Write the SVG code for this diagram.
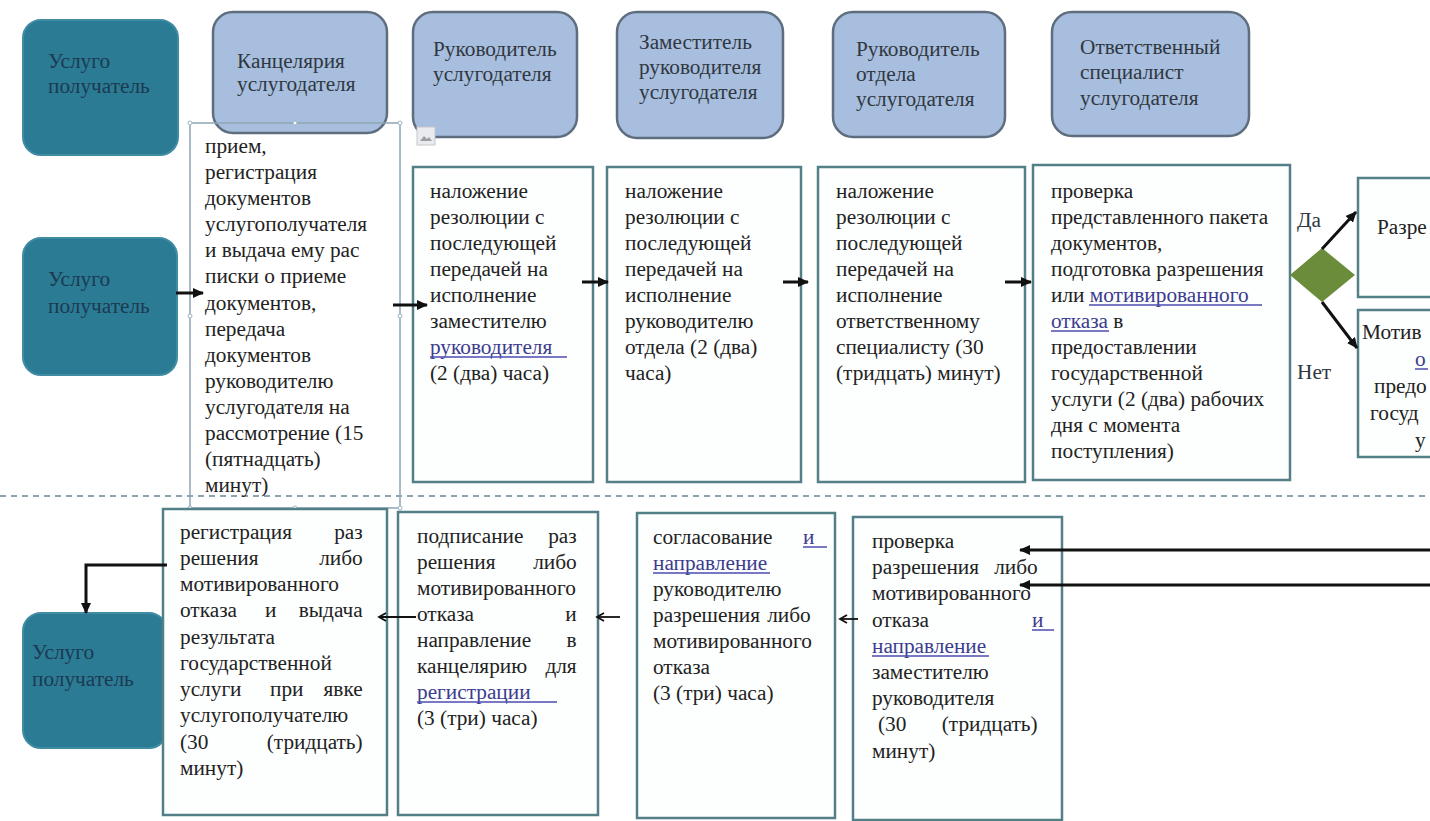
<svg xmlns="http://www.w3.org/2000/svg" width="1430" height="821" viewBox="0 0 1430 821">
<style>
.bg{fill:#ffffff}
.hdr{fill:#a7bede;stroke:#5e6e7e;stroke-width:2.5}
.cli{fill:#2b7b94;stroke:#3f8ca3;stroke-width:2}
.task{fill:#fdfefe;stroke:#537f86;stroke-width:2.5}
.sel{fill:none;stroke:#8ea5b7;stroke-width:1.5}
.hd{fill:#fff;stroke:#9fb3c2;stroke-width:1}
.t{font-family:"Liberation Serif","Times New Roman",serif;font-size:21.3px;fill:#222222}
.th{fill:#30373f}
.tc{fill:#1b3a52}
.u{fill:#3c3c8e}
.ul{stroke:#4b4bb0;stroke-width:1.5}
.e{text-anchor:end}
.arr{stroke:#111;stroke-width:3;fill:none}
.arr2{stroke:#111;stroke-width:1.8;fill:none}
.dash{stroke:#8ba3ad;stroke-width:2;stroke-dasharray:6 5}
.dia{fill:#6b8c3a}
</style>
<defs>
<marker id="ah" markerUnits="userSpaceOnUse" markerWidth="11" markerHeight="10" refX="10" refY="5" orient="auto">
<path d="M0,0 L11,5 L0,10 z" fill="#111"/>
</marker>
<marker id="av" markerUnits="userSpaceOnUse" markerWidth="10" markerHeight="10" refX="8" refY="5" orient="auto">
<path d="M1,1 L8,5 L1,9" fill="none" stroke="#111" stroke-width="1.8"/>
</marker>
</defs>
<rect class="bg" x="0" y="0" width="1430" height="821"/>

<line id="lane-separator" class="dash" x1="0" y1="496" x2="1430" y2="496"/>

<g id="client-top">
<rect class="cli" x="23" y="20" width="155" height="135" rx="18"/>
<text class="t tc"><tspan x="48" y="68">Услуго</tspan><tspan x="48" y="93">получатель</tspan></text>
</g>
<g id="hdr-chancery">
<rect class="hdr" x="213" y="12" width="174" height="121" rx="20"/>
<text class="t th"><tspan x="237" y="68">Канцелярия</tspan><tspan x="237" y="91">услугодателя</tspan></text>
</g>
<g id="hdr-head">
<rect class="hdr" x="413" y="12" width="164" height="125" rx="20"/>
<text class="t th"><tspan x="433" y="56">Руководитель</tspan><tspan x="433" y="81">услугодателя</tspan></text>
</g>
<g id="hdr-deputy">
<rect class="hdr" x="617" y="12" width="166" height="126" rx="20"/>
<text class="t th"><tspan x="639" y="49">Заместитель</tspan><tspan x="639" y="74">руководителя</tspan><tspan x="639" y="99">услугодателя</tspan></text>
</g>
<g id="hdr-dept">
<rect class="hdr" x="833" y="12" width="172" height="125" rx="20"/>
<text class="t th"><tspan x="856" y="56">Руководитель</tspan><tspan x="856" y="81">отдела</tspan><tspan x="856" y="106">услугодателя</tspan></text>
</g>
<g id="hdr-specialist">
<rect class="hdr" x="1052" y="12" width="197" height="124" rx="20"/>
<text class="t th"><tspan x="1080" y="54">Ответственный</tspan><tspan x="1080" y="79">специалист</tspan><tspan x="1080" y="105">услугодателя</tspan></text>
</g>

<g id="icon-placeholder">
<rect x="417" y="127" width="18" height="18" fill="#e9ebee" stroke="#c4c8cc" stroke-width="1"/>
<path d="M420,141 l4,-5 l3,3 l2,-2 l3,4 z" fill="#9aa0a6"/>
</g>

<g id="client-mid">
<rect class="cli" x="23" y="238" width="154" height="137" rx="18"/>
<text class="t tc"><tspan x="48" y="286">Услуго</tspan><tspan x="48" y="313">получатель</tspan></text>
</g>
<g id="client-bottom">
<rect class="cli" x="23" y="613" width="144" height="135" rx="18"/>
<text class="t tc"><tspan x="32" y="659">Услуго</tspan><tspan x="32" y="686">получатель</tspan></text>
</g>

<g id="task-chancery-receive">
<rect class="sel" x="190" y="123" width="210" height="385"/>
<circle class="hd" cx="190" cy="123" r="2"/><circle class="hd" cx="295" cy="123" r="2"/><circle class="hd" cx="400" cy="123" r="2"/>
<circle class="hd" cx="190" cy="316" r="2"/><circle class="hd" cx="400" cy="316" r="2"/>
<circle class="hd" cx="190" cy="508" r="2"/><circle class="hd" cx="295" cy="508" r="2"/><circle class="hd" cx="400" cy="508" r="2"/>
<text class="t">
<tspan x="205" y="153">прием,</tspan>
<tspan x="205" y="179">регистрация</tspan>
<tspan x="205" y="205">документов</tspan>
<tspan x="205" y="231">услугополучателя</tspan>
<tspan x="205" y="257">и выдача ему рас</tspan>
<tspan x="205" y="283">писки о приеме</tspan>
<tspan x="205" y="310">документов,</tspan>
<tspan x="205" y="336">передача</tspan>
<tspan x="205" y="362">документов</tspan>
<tspan x="205" y="388">руководителю</tspan>
<tspan x="205" y="414">услугодателя на</tspan>
<tspan x="205" y="440">рассмотрение (15</tspan>
<tspan x="205" y="466">(пятнадцать)</tspan>
<tspan x="205" y="492">минут)</tspan>
</text>
</g>

<g id="task-head-resolution">
<rect class="task" x="413" y="167" width="180" height="315"/>
<text class="t">
<tspan x="430" y="198">наложение</tspan>
<tspan x="430" y="224">резолюции с</tspan>
<tspan x="430" y="250">последующей</tspan>
<tspan x="430" y="276">передачей на</tspan>
<tspan x="430" y="302">исполнение</tspan>
<tspan x="430" y="328">заместителю</tspan>
<tspan x="430" y="354" class="u">руководителя</tspan>
<tspan x="430" y="380">(2 (два) часа)</tspan>
</text>
<line class="ul" x1="430" y1="357" x2="567" y2="357"/>
</g>

<g id="task-deputy-resolution">
<rect class="task" x="607" y="167" width="194" height="315"/>
<text class="t">
<tspan x="625" y="198">наложение</tspan>
<tspan x="625" y="224">резолюции с</tspan>
<tspan x="625" y="250">последующей</tspan>
<tspan x="625" y="276">передачей на</tspan>
<tspan x="625" y="302">исполнение</tspan>
<tspan x="625" y="328">руководителю</tspan>
<tspan x="625" y="354">отдела (2 (два)</tspan>
<tspan x="625" y="380">часа)</tspan>
</text>
</g>

<g id="task-dept-resolution">
<rect class="task" x="818" y="167" width="207" height="315"/>
<text class="t">
<tspan x="836" y="198">наложение</tspan>
<tspan x="836" y="224">резолюции с</tspan>
<tspan x="836" y="250">последующей</tspan>
<tspan x="836" y="276">передачей на</tspan>
<tspan x="836" y="302">исполнение</tspan>
<tspan x="836" y="328">ответственному</tspan>
<tspan x="836" y="354">специалисту (30</tspan>
<tspan x="836" y="380">(тридцать) минут)</tspan>
</text>
</g>

<g id="task-specialist-check">
<rect class="task" x="1033" y="165" width="257" height="315"/>
<text class="t">
<tspan x="1051" y="198">проверка</tspan>
<tspan x="1051" y="224">представленного пакета</tspan>
<tspan x="1051" y="250">документов,</tspan>
<tspan x="1051" y="276">подготовка разрешения</tspan>
<tspan x="1051" y="302">или <tspan class="u">мотивированного</tspan></tspan>
<tspan x="1051" y="328"><tspan class="u">отказа</tspan> в</tspan>
<tspan x="1051" y="354">предоставлении</tspan>
<tspan x="1051" y="380">государственной</tspan>
<tspan x="1051" y="406">услуги (2 (два) рабочих</tspan>
<tspan x="1051" y="432">дня с момента</tspan>
<tspan x="1051" y="458">поступления)</tspan>
</text>
<line class="ul" x1="1089" y1="305" x2="1262" y2="305"/>
<line class="ul" x1="1051" y1="331" x2="1109" y2="331"/>
</g>

<g id="decision">
<polygon class="dia" points="1322,248 1355,275 1322,302 1290,275"/>
<text class="t th" x="1297" y="227">Да</text>
<text class="t th" x="1297" y="379">Нет</text>
</g>

<g id="result-permit">
<rect x="1358" y="178" width="72" height="119" fill="#fdfefe"/>
<path d="M1430,178 H1358 V297 H1430" fill="none" stroke="#537f86" stroke-width="2.5"/>
<text class="t" x="1377" y="234">Разре</text>
</g>

<g id="result-refusal">
<rect x="1358" y="310" width="72" height="147" fill="#fdfefe"/>
<path d="M1430,310 H1358 V457 H1430" fill="none" stroke="#537f86" stroke-width="2.5"/>
<text class="t">
<tspan x="1362" y="339">Мотив</tspan>
<tspan x="1415" y="366" class="u">о</tspan>
<tspan x="1374" y="393">предо</tspan>
<tspan x="1370" y="420">госуд</tspan>
<tspan x="1415" y="447">у</tspan>
</text>
<line class="ul" x1="1415" y1="369" x2="1428" y2="369"/>
</g>

<g id="task-chancery-issue">
<rect class="task" x="163" y="509" width="224" height="306"/>
<text class="t">
<tspan x="180" y="539">регистрация</tspan><tspan x="368" y="539" class="e">раз</tspan>
<tspan x="180" y="565">решения</tspan><tspan x="368" y="565" class="e">либо</tspan>
<tspan x="180" y="591">мотивированного</tspan>
<tspan x="180" y="617">отказа</tspan><tspan x="265" y="617">и</tspan><tspan x="368" y="617" class="e">выдача</tspan>
<tspan x="180" y="644">результата</tspan>
<tspan x="180" y="670">государственной</tspan>
<tspan x="180" y="696">услуги</tspan><tspan x="270" y="696">при</tspan><tspan x="368" y="696" class="e">явке</tspan>
<tspan x="180" y="722">услугополучателю</tspan>
<tspan x="180" y="749">(30</tspan><tspan x="368" y="749" class="e">(тридцать)</tspan>
<tspan x="180" y="775">минут)</tspan>
</text>
</g>

<g id="task-head-sign">
<rect class="task" x="398" y="512" width="200" height="303"/>
<text class="t">
<tspan x="417" y="543">подписание</tspan><tspan x="582" y="543" class="e">раз</tspan>
<tspan x="417" y="569">решения</tspan><tspan x="582" y="569" class="e">либо</tspan>
<tspan x="417" y="595">мотивированного</tspan>
<tspan x="417" y="621">отказа</tspan><tspan x="582" y="621" class="e">и</tspan>
<tspan x="417" y="647">направление</tspan><tspan x="582" y="647" class="e">в</tspan>
<tspan x="417" y="673">канцелярию</tspan><tspan x="582" y="673" class="e">для</tspan>
<tspan x="417" y="699" class="u">регистрации</tspan>
<tspan x="417" y="725">(3 (три) часа)</tspan>
</text>
<line class="ul" x1="417" y1="702" x2="557" y2="702"/>
</g>

<g id="task-deputy-approve">
<rect class="task" x="637" y="513" width="198" height="305"/>
<text class="t">
<tspan x="653" y="544">согласование</tspan><tspan x="803" y="544" class="u">и</tspan>
<tspan x="653" y="570" class="u">направление</tspan>
<tspan x="653" y="596">руководителю</tspan>
<tspan x="653" y="622">разрешения</tspan><tspan x="816" y="622" class="e">либо</tspan>
<tspan x="653" y="648">мотивированного</tspan>
<tspan x="653" y="674">отказа</tspan>
<tspan x="653" y="700">(3 (три) часа)</tspan>
</text>
<line class="ul" x1="803" y1="547" x2="827" y2="547"/>
<line class="ul" x1="653" y1="573" x2="770" y2="573"/>
</g>

<g id="task-dept-check">
<rect class="task" x="853" y="517" width="209" height="303"/>
<text class="t">
<tspan x="872" y="548">проверка</tspan>
<tspan x="872" y="574">разрешения</tspan><tspan x="1043" y="574" class="e">либо</tspan>
<tspan x="872" y="600">мотивированного</tspan>
<tspan x="872" y="627">отказа</tspan><tspan x="1032" y="627" class="u">и</tspan>
<tspan x="872" y="653" class="u">направление</tspan>
<tspan x="872" y="679">заместителю</tspan>
<tspan x="872" y="705">руководителя</tspan>
<tspan x="878" y="731">(30</tspan><tspan x="1043" y="731" class="e">(тридцать)</tspan>
<tspan x="872" y="758">минут)</tspan>
</text>
<line class="ul" x1="1032" y1="630" x2="1054" y2="630"/>
<line class="ul" x1="872" y1="656" x2="989" y2="656"/>
</g>

<g id="connectors">
<path class="arr" d="M176,293 H203" marker-end="url(#ah)"/>
<path class="arr" d="M393,305 H427" marker-end="url(#ah)"/>
<path class="arr" d="M582,282 H608" marker-end="url(#ah)"/>
<path class="arr" d="M783,282 H808" marker-end="url(#ah)"/>
<path class="arr" d="M1005,282 H1031" marker-end="url(#ah)"/>
<path class="arr" d="M1322,249 L1356,212" marker-end="url(#ah)"/>
<path class="arr" d="M1322,302 L1357,348" marker-end="url(#ah)"/>
<path class="arr" d="M1430,550 H1020" marker-end="url(#ah)"/>
<path class="arr" d="M1430,585 H1020" marker-end="url(#ah)"/>
<path class="arr2" d="M858,619 H840" marker-end="url(#av)"/>
<path class="arr2" d="M620,617 H597" marker-end="url(#av)"/>
<path class="arr2" d="M416,617 H379" marker-end="url(#av)"/>
<path class="arr" d="M167,565 H86 V613" marker-end="url(#ah)"/>
</g>
</svg>
